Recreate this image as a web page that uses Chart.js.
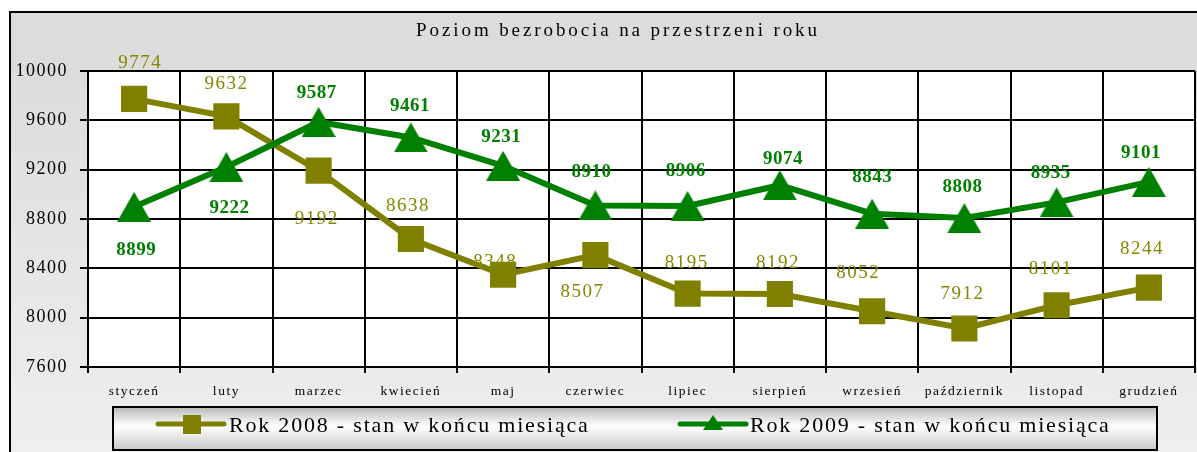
<!DOCTYPE html>
<html>
<head>
<meta charset="utf-8">
<script src="https://cdn.jsdelivr.net/npm/chart.js@4"></script>
<style>
body { margin: 0; background: #fff; }
#wrap { width: 1197px; height: 452px; }
</style>
</head>
<body>
<div id="wrap"><canvas id="chart" width="1197" height="452"></canvas></div>
<script>
// Chart data
const months = ['styczeń', 'luty', 'marzec', 'kwiecień', 'maj', 'czerwiec', 'lipiec', 'sierpień', 'wrzesień', 'październik', 'listopad', 'grudzień'];
const values2008 = [9774, 9632, 9192, 8638, 8348, 8507, 8195, 8192, 8052, 7912, 8101, 8244];
const values2009 = [8899, 9222, 9587, 9461, 9231, 8910, 8906, 9074, 8843, 8808, 8935, 9101];
const yTicks = [7600, 8000, 8400, 8800, 9200, 9600, 10000];

// Value label nudges (px) relative to each marker
const labelDx2008 = [6, 0, -2, -3, -8, -13, -1, -2, -14, -2, -6, -7];
const labelDy2008 = [-36, -32, 48, -33, -13, 37, -31, -31, -38, -35, -36, -39];
const labelDx2009 = [2, 3, -2, -1, -2, -4, -2, 3, 0, -2, -6, -8];
const labelDy2009 = [43, 41, -29, -31, -29, -33, -35, -26, -37, -31, -29, -29];

const OLIVE = '#808000';
const GREEN = '#008000';
const SERIF = '"Liberation Serif", "Times New Roman", serif';

// Triangle marker centred on its bounding box
function makeTriangle(w, h, color) {
    const c = document.createElement('canvas');
    c.width = w;
    c.height = h;
    const g = c.getContext('2d');
    g.fillStyle = color;
    g.beginPath();
    g.moveTo(w / 2, 0);
    g.lineTo(w, h);
    g.lineTo(0, h);
    g.closePath();
    g.fill();
    return c;
}
const triangle = makeTriangle(34, 30, GREEN);

// Background, title, frame, legend and value labels
const framePlugin = {
    id: 'frame',
    beforeDraw(chart) {
        const ctx = chart.ctx;
        const area = chart.chartArea;
        ctx.save();
        ctx.fillStyle = '#fff';
        ctx.fillRect(0, 0, chart.width, chart.height);

        const grad = ctx.createLinearGradient(0, 70, 0, chart.height);
        grad.addColorStop(0, '#dcdcdc');
        grad.addColorStop(1, '#efefef');
        ctx.fillStyle = grad;
        ctx.fillRect(10, 12, chart.width, chart.height);
        ctx.fillStyle = '#dcdcdc';
        ctx.fillRect(10, 12, chart.width, 58);

        ctx.strokeStyle = '#000';
        ctx.lineWidth = 2;
        ctx.strokeRect(10, 12, chart.width + 10, chart.height + 10);

        ctx.fillStyle = '#fff';
        ctx.fillRect(area.left, area.top, area.right - area.left, area.bottom - area.top);

        ctx.fillStyle = '#000';
        ctx.font = '19px ' + SERIF;
        ctx.letterSpacing = '2.9px';
        ctx.textAlign = 'center';
        ctx.textBaseline = 'middle';
        ctx.fillText('Poziom bezrobocia na przestrzeni roku', 618, 31);
        ctx.restore();
        ctx.letterSpacing = '1.5px';
    },
    afterDraw(chart) {
        const ctx = chart.ctx;
        ctx.save();
        // legend box
        const bx = 113, by = 407, bw = 1044, bh = 43;
        const grad = ctx.createLinearGradient(0, by, 0, by + bh);
        grad.addColorStop(0, '#b8b8b8');
        grad.addColorStop(0.45, '#ffffff');
        grad.addColorStop(1, '#c8c8c8');
        ctx.fillStyle = grad;
        ctx.fillRect(bx, by, bw, bh);
        ctx.strokeStyle = '#000';
        ctx.lineWidth = 2;
        ctx.strokeRect(bx, by, bw, bh);

        const ly = 424;
        ctx.lineCap = 'round';
        ctx.lineWidth = 5;
        const ds = chart.data.datasets;
        ctx.strokeStyle = OLIVE;
        ctx.beginPath();
        ctx.moveTo(158, ly);
        ctx.lineTo(224, ly);
        ctx.stroke();
        ctx.fillStyle = OLIVE;
        ctx.fillRect(183, ly - 9, 18, 19);

        ctx.strokeStyle = GREEN;
        ctx.beginPath();
        ctx.moveTo(680, ly);
        ctx.lineTo(746, ly);
        ctx.stroke();
        ctx.drawImage(triangle, 703, ly - 9, 20, 15);

        ctx.fillStyle = '#000';
        ctx.font = '22px ' + SERIF;
        ctx.letterSpacing = '1.8px';
        ctx.textAlign = 'left';
        ctx.textBaseline = 'middle';
        ctx.fillText(ds[0].label, 229, ly + 2);
        ctx.fillText(ds[1].label, 750, ly + 2);
        ctx.restore();
    },
    afterDatasetsDraw(chart) {
        const ctx = chart.ctx;
        const x = chart.scales.x;
        const y = chart.scales.y;
        ctx.save();
        ctx.textAlign = 'center';
        ctx.textBaseline = 'middle';
        ctx.letterSpacing = '1.5px';
        ctx.fillStyle = '#868600';
        ctx.font = '19px ' + SERIF;
        values2008.forEach((v, i) => {
            ctx.fillText(String(v), x.getPixelForValue(i) + labelDx2008[i], y.getPixelForValue(v) + labelDy2008[i]);
        });
        ctx.fillStyle = GREEN;
        ctx.font = 'bold 19px ' + SERIF;
        ctx.letterSpacing = '0.5px';
        values2009.forEach((v, i) => {
            ctx.fillText(String(v), x.getPixelForValue(i) + labelDx2009[i], y.getPixelForValue(v) + labelDy2009[i]);
        });
        ctx.restore();
    }
};

new Chart(document.getElementById('chart'), {
    type: 'line',
    data: {
        labels: months,
        datasets: [{
            label: 'Rok 2008 - stan w końcu miesiąca',
            data: values2008,
            borderColor: OLIVE,
            backgroundColor: OLIVE,
            borderWidth: 6,
            pointStyle: 'rect',
            pointRadius: 18.5,
            pointHoverRadius: 18.5,
            pointBorderWidth: 0,
            tension: 0,
            order: 1
        }, {
            label: 'Rok 2009 - stan w końcu miesiąca',
            data: values2009,
            borderColor: GREEN,
            backgroundColor: GREEN,
            borderWidth: 6,
            pointStyle: triangle,
            pointRadius: 17,
            tension: 0,
            order: 0
        }]
    },
    options: {
        responsive: false,
        animation: false,
        events: [],
        layout: { autoPadding: false, padding: { top: 71, right: 2, left: 0, bottom: 0 } },
        plugins: {
            legend: { display: false },
            title: { display: false },
            tooltip: { enabled: false }
        },
        scales: {
            x: {
                offset: true,
                grid: { color: '#000', lineWidth: 2, tickLength: 6, offset: true },
                border: { color: '#000', width: 2 },
                ticks: {
                    color: '#000',
                    font: { family: SERIF, size: 13.5 },
                    padding: 10,
                    maxRotation: 0,
                    autoSkip: false
                },
                afterFit: s => { s.height = 85; }
            },
            y: {
                min: 7600,
                max: 10000,
                grid: { color: '#000', lineWidth: 2, tickLength: 8 },
                border: { color: '#000', width: 2 },
                ticks: {
                    color: '#000',
                    font: { family: SERIF, size: 18 },
                    padding: 12,
                    callback: v => String(v)
                },
                afterBuildTicks: s => { s.ticks = yTicks.map(v => ({ value: v })); },
                afterFit: s => { s.width = 88; }
            }
        }
    },
    plugins: [framePlugin]
});
</script>
</body>
</html>
